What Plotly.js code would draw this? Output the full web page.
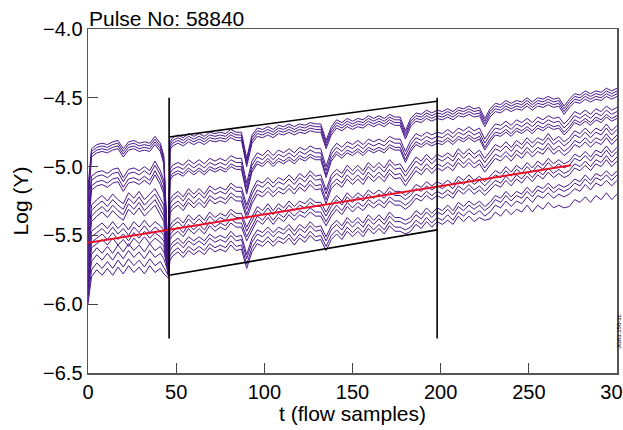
<!DOCTYPE html>
<html>
<head>
<meta charset="utf-8">
<script src="https://cdn.plot.ly/plotly-3.0.1.min.js"></script>
<style>html,body{margin:0;padding:0;background:#fff;}#chart{width:623px;height:430px;}</style>
</head>
<body>
<div id="chart"></div>
<script>
// sample positions (flow samples)
const tSamples = [0,2,5,8,11,14,17,20,23,26,29,32,35,38,41,43,45.5,
46.5,48,51,54,57,60,63,66,69,72,75,78,81,84,87,90,93,96,99,102,105,108,111,114,117,120,123,126,129,132,135,138,141,144,147,150,153,156,159,162,165,168,171,174,177,180,183,186,189,192,195,198,
201,204,207,210,213,216,219,222,225,228,231,234,237,240,243,246,249,252,255,258,261,264,267,270,273,276,279,282,285,288,291,294,297,300];

const lineA1 = [-5.15,-4.87,-4.84,-4.83,-4.84,-4.82,-4.81,-4.87,-4.82,-4.81,-4.83,-4.82,-4.83,-4.78,-4.83,-4.92,-5.68,
-4.82,-4.79,-4.77,-4.79,-4.76,-4.78,-4.76,-4.78,-4.75,-4.76,-4.75,-4.76,-4.73,-4.75,-4.75,-4.94,-4.77,-4.72,-4.73,-4.71,-4.73,-4.70,-4.71,-4.69,-4.71,-4.69,-4.70,-4.68,-4.69,-4.69,-4.81,-4.71,-4.66,-4.68,-4.65,-4.67,-4.65,-4.66,-4.63,-4.65,-4.63,-4.65,-4.62,-4.64,-4.64,-4.74,-4.65,-4.61,-4.62,-4.59,-4.61,-4.59,
-4.60,-4.58,-4.60,-4.57,-4.58,-4.56,-4.58,-4.57,-4.65,-4.58,-4.54,-4.55,-4.52,-4.54,-4.52,-4.53,-4.50,-4.53,-4.50,-4.51,-4.49,-4.51,-4.50,-4.56,-4.51,-4.47,-4.48,-4.45,-4.47,-4.45,-4.46,-4.43,-4.45,-4.43];
const lineA2 = [-5.20,-4.89,-4.86,-4.85,-4.86,-4.84,-4.83,-4.89,-4.84,-4.83,-4.85,-4.84,-4.85,-4.80,-4.85,-4.94,-5.70,
-4.84,-4.81,-4.79,-4.81,-4.78,-4.80,-4.78,-4.80,-4.77,-4.78,-4.77,-4.78,-4.75,-4.77,-4.77,-4.96,-4.79,-4.74,-4.75,-4.73,-4.75,-4.72,-4.73,-4.71,-4.73,-4.71,-4.72,-4.70,-4.71,-4.71,-4.83,-4.73,-4.68,-4.70,-4.67,-4.69,-4.67,-4.68,-4.65,-4.67,-4.65,-4.67,-4.64,-4.66,-4.66,-4.76,-4.67,-4.63,-4.64,-4.61,-4.63,-4.61,
-4.62,-4.60,-4.62,-4.59,-4.60,-4.58,-4.60,-4.59,-4.67,-4.60,-4.56,-4.57,-4.54,-4.56,-4.54,-4.55,-4.52,-4.55,-4.52,-4.53,-4.51,-4.53,-4.52,-4.58,-4.53,-4.49,-4.50,-4.47,-4.49,-4.47,-4.48,-4.45,-4.47,-4.45];
const lineA3 = [-5.25,-4.91,-4.88,-4.87,-4.88,-4.86,-4.85,-4.91,-4.86,-4.85,-4.87,-4.86,-4.87,-4.82,-4.87,-4.96,-5.72,
-4.86,-4.83,-4.81,-4.83,-4.80,-4.82,-4.80,-4.82,-4.79,-4.80,-4.79,-4.80,-4.77,-4.79,-4.79,-4.98,-4.81,-4.76,-4.77,-4.75,-4.77,-4.74,-4.75,-4.73,-4.75,-4.73,-4.74,-4.72,-4.73,-4.73,-4.85,-4.75,-4.70,-4.72,-4.69,-4.71,-4.69,-4.70,-4.67,-4.69,-4.67,-4.69,-4.66,-4.68,-4.68,-4.78,-4.69,-4.65,-4.66,-4.63,-4.65,-4.63,
-4.64,-4.62,-4.64,-4.61,-4.62,-4.60,-4.62,-4.61,-4.69,-4.62,-4.58,-4.59,-4.56,-4.58,-4.56,-4.57,-4.54,-4.57,-4.54,-4.55,-4.53,-4.55,-4.54,-4.60,-4.55,-4.51,-4.52,-4.49,-4.51,-4.49,-4.50,-4.47,-4.49,-4.47];
const lineA4 = [-5.30,-4.93,-4.90,-4.89,-4.90,-4.88,-4.87,-4.93,-4.88,-4.87,-4.89,-4.88,-4.89,-4.84,-4.89,-4.98,-5.74,
-4.88,-4.85,-4.83,-4.85,-4.82,-4.84,-4.82,-4.84,-4.81,-4.82,-4.81,-4.82,-4.79,-4.81,-4.81,-5.00,-4.83,-4.78,-4.79,-4.77,-4.79,-4.76,-4.77,-4.75,-4.77,-4.75,-4.76,-4.74,-4.75,-4.75,-4.87,-4.77,-4.72,-4.74,-4.71,-4.73,-4.71,-4.72,-4.69,-4.71,-4.69,-4.71,-4.68,-4.70,-4.70,-4.80,-4.71,-4.67,-4.68,-4.65,-4.67,-4.65,
-4.66,-4.64,-4.66,-4.63,-4.64,-4.62,-4.64,-4.63,-4.71,-4.64,-4.60,-4.61,-4.58,-4.60,-4.58,-4.59,-4.56,-4.59,-4.56,-4.57,-4.55,-4.57,-4.56,-4.62,-4.57,-4.53,-4.54,-4.51,-4.53,-4.51,-4.52,-4.49,-4.51,-4.49];

const lineB1 = [-5.35,-5.07,-5.04,-5.03,-5.05,-5.02,-5.01,-5.08,-5.02,-5.01,-5.03,-5.00,-5.03,-4.96,-5.03,-5.10,-5.70,
-5.02,-4.99,-4.97,-4.99,-4.95,-4.98,-4.95,-4.98,-4.94,-4.96,-4.94,-4.96,-4.92,-4.94,-4.94,-5.12,-4.96,-4.90,-4.92,-4.88,-4.92,-4.88,-4.90,-4.87,-4.90,-4.86,-4.88,-4.85,-4.87,-4.87,-5.00,-4.88,-4.83,-4.86,-4.82,-4.84,-4.81,-4.84,-4.80,-4.82,-4.80,-4.82,-4.78,-4.80,-4.80,-4.89,-4.81,-4.76,-4.78,-4.75,-4.77,-4.75,
-4.76,-4.73,-4.76,-4.72,-4.74,-4.71,-4.74,-4.72,-4.80,-4.74,-4.69,-4.70,-4.67,-4.70,-4.66,-4.68,-4.65,-4.68,-4.64,-4.66,-4.63,-4.65,-4.64,-4.69,-4.65,-4.60,-4.62,-4.59,-4.62,-4.58,-4.60,-4.56,-4.59,-4.57];
const lineB2 = [-5.40,-5.10,-5.07,-5.06,-5.08,-5.05,-5.04,-5.11,-5.05,-5.04,-5.06,-5.03,-5.06,-4.99,-5.06,-5.13,-5.72,
-5.05,-5.02,-5.00,-5.02,-4.98,-5.01,-4.98,-5.01,-4.97,-4.99,-4.97,-4.99,-4.95,-4.97,-4.97,-5.15,-4.99,-4.93,-4.95,-4.91,-4.95,-4.91,-4.93,-4.90,-4.93,-4.89,-4.91,-4.88,-4.90,-4.90,-5.03,-4.91,-4.86,-4.89,-4.85,-4.87,-4.84,-4.87,-4.83,-4.85,-4.83,-4.85,-4.81,-4.83,-4.83,-4.92,-4.84,-4.79,-4.81,-4.78,-4.80,-4.78,
-4.79,-4.76,-4.79,-4.75,-4.77,-4.74,-4.77,-4.75,-4.83,-4.77,-4.72,-4.73,-4.70,-4.73,-4.69,-4.71,-4.68,-4.71,-4.67,-4.69,-4.66,-4.68,-4.67,-4.72,-4.68,-4.63,-4.65,-4.62,-4.65,-4.61,-4.63,-4.59,-4.62,-4.60];
const lineB3 = [-5.45,-5.14,-5.11,-5.10,-5.12,-5.09,-5.08,-5.15,-5.09,-5.08,-5.10,-5.07,-5.10,-5.03,-5.10,-5.17,-5.74,
-5.08,-5.05,-5.03,-5.05,-5.01,-5.04,-5.01,-5.04,-5.00,-5.02,-5.00,-5.02,-4.98,-5.00,-5.00,-5.18,-5.02,-4.96,-4.98,-4.94,-4.98,-4.94,-4.96,-4.93,-4.96,-4.92,-4.94,-4.91,-4.93,-4.93,-5.06,-4.94,-4.89,-4.92,-4.88,-4.90,-4.87,-4.90,-4.86,-4.88,-4.86,-4.88,-4.84,-4.86,-4.86,-4.95,-4.87,-4.82,-4.84,-4.81,-4.83,-4.81,
-4.82,-4.79,-4.82,-4.78,-4.80,-4.77,-4.80,-4.78,-4.86,-4.80,-4.75,-4.76,-4.73,-4.76,-4.72,-4.74,-4.71,-4.74,-4.70,-4.72,-4.69,-4.71,-4.70,-4.75,-4.71,-4.66,-4.68,-4.65,-4.68,-4.64,-4.66,-4.62,-4.65,-4.63];
const lineB4 = [-5.50,-5.17,-5.14,-5.13,-5.15,-5.12,-5.11,-5.18,-5.12,-5.11,-5.13,-5.10,-5.13,-5.06,-5.13,-5.20,-5.76,
-5.10,-5.07,-5.05,-5.07,-5.03,-5.06,-5.03,-5.06,-5.02,-5.04,-5.02,-5.04,-5.00,-5.02,-5.02,-5.20,-5.04,-4.98,-5.00,-4.96,-5.00,-4.96,-4.98,-4.95,-4.98,-4.94,-4.96,-4.93,-4.95,-4.95,-5.08,-4.96,-4.91,-4.94,-4.90,-4.92,-4.89,-4.92,-4.88,-4.90,-4.88,-4.90,-4.86,-4.88,-4.88,-4.97,-4.89,-4.84,-4.86,-4.83,-4.85,-4.83,
-4.84,-4.81,-4.84,-4.80,-4.82,-4.79,-4.82,-4.80,-4.88,-4.82,-4.77,-4.78,-4.75,-4.78,-4.74,-4.76,-4.73,-4.76,-4.72,-4.74,-4.71,-4.73,-4.72,-4.77,-4.73,-4.68,-4.70,-4.67,-4.70,-4.66,-4.68,-4.64,-4.67,-4.65];

const lineC1 = [-5.55,-5.28,-5.24,-5.21,-5.25,-5.20,-5.24,-5.27,-5.19,-5.23,-5.18,-5.24,-5.20,-5.16,-5.23,-5.28,-5.72,
-5.24,-5.21,-5.18,-5.22,-5.16,-5.20,-5.16,-5.20,-5.14,-5.17,-5.15,-5.17,-5.12,-5.15,-5.15,-5.28,-5.17,-5.10,-5.12,-5.08,-5.12,-5.08,-5.10,-5.06,-5.10,-5.05,-5.08,-5.03,-5.07,-5.06,-5.17,-5.06,-5.02,-5.05,-4.99,-5.03,-4.99,-5.03,-4.97,-5.01,-4.97,-5.01,-4.95,-4.99,-4.98,-5.04,-4.98,-4.93,-4.96,-4.91,-4.95,-4.91,
-4.93,-4.90,-4.93,-4.87,-4.91,-4.87,-4.91,-4.88,-4.94,-4.89,-4.84,-4.86,-4.82,-4.86,-4.81,-4.84,-4.79,-4.83,-4.79,-4.81,-4.76,-4.81,-4.78,-4.82,-4.79,-4.74,-4.76,-4.72,-4.76,-4.72,-4.74,-4.69,-4.74,-4.70];
const lineC2 = [-5.60,-5.32,-5.28,-5.25,-5.29,-5.24,-5.28,-5.31,-5.23,-5.27,-5.22,-5.28,-5.24,-5.20,-5.27,-5.32,-5.74,
-5.27,-5.24,-5.21,-5.25,-5.19,-5.23,-5.19,-5.23,-5.17,-5.20,-5.18,-5.20,-5.15,-5.18,-5.18,-5.31,-5.20,-5.13,-5.15,-5.11,-5.15,-5.11,-5.13,-5.09,-5.13,-5.08,-5.11,-5.06,-5.10,-5.09,-5.20,-5.09,-5.05,-5.08,-5.02,-5.06,-5.02,-5.06,-5.00,-5.04,-5.00,-5.04,-4.98,-5.02,-5.01,-5.07,-5.01,-4.96,-4.99,-4.94,-4.98,-4.94,
-4.96,-4.93,-4.96,-4.90,-4.94,-4.90,-4.94,-4.91,-4.97,-4.92,-4.87,-4.89,-4.85,-4.89,-4.84,-4.87,-4.82,-4.86,-4.82,-4.84,-4.79,-4.84,-4.81,-4.85,-4.82,-4.77,-4.79,-4.75,-4.79,-4.75,-4.77,-4.72,-4.77,-4.73];
const lineC3 = [-5.65,-5.36,-5.32,-5.29,-5.33,-5.28,-5.32,-5.35,-5.27,-5.31,-5.26,-5.32,-5.28,-5.24,-5.31,-5.36,-5.76,
-5.31,-5.28,-5.25,-5.29,-5.23,-5.27,-5.23,-5.27,-5.21,-5.24,-5.22,-5.24,-5.19,-5.22,-5.22,-5.35,-5.24,-5.17,-5.19,-5.15,-5.19,-5.15,-5.17,-5.13,-5.17,-5.12,-5.15,-5.10,-5.14,-5.13,-5.24,-5.13,-5.09,-5.12,-5.06,-5.10,-5.06,-5.10,-5.04,-5.08,-5.04,-5.08,-5.02,-5.06,-5.05,-5.11,-5.05,-5.00,-5.03,-4.98,-5.02,-4.98,
-5.00,-4.97,-5.00,-4.94,-4.98,-4.94,-4.98,-4.95,-5.01,-4.96,-4.91,-4.93,-4.89,-4.93,-4.88,-4.91,-4.86,-4.90,-4.86,-4.88,-4.83,-4.88,-4.85,-4.89,-4.86,-4.81,-4.83,-4.79,-4.83,-4.79,-4.81,-4.76,-4.81,-4.77];
const lineC4 = [-5.70,-5.40,-5.36,-5.33,-5.37,-5.32,-5.36,-5.39,-5.31,-5.35,-5.30,-5.36,-5.32,-5.28,-5.35,-5.40,-5.78,
-5.34,-5.31,-5.28,-5.32,-5.26,-5.30,-5.26,-5.30,-5.24,-5.27,-5.25,-5.27,-5.22,-5.25,-5.25,-5.38,-5.27,-5.20,-5.22,-5.18,-5.22,-5.18,-5.20,-5.16,-5.20,-5.15,-5.18,-5.13,-5.17,-5.16,-5.27,-5.16,-5.12,-5.15,-5.09,-5.13,-5.09,-5.13,-5.07,-5.11,-5.07,-5.11,-5.05,-5.09,-5.08,-5.14,-5.08,-5.03,-5.06,-5.01,-5.05,-5.01,
-5.03,-5.00,-5.03,-4.97,-5.01,-4.97,-5.01,-4.98,-5.04,-4.99,-4.94,-4.96,-4.92,-4.96,-4.91,-4.94,-4.89,-4.93,-4.89,-4.91,-4.86,-4.91,-4.88,-4.92,-4.89,-4.84,-4.86,-4.82,-4.86,-4.82,-4.84,-4.79,-4.84,-4.80];

const lineD1 = [-5.75,-5.47,-5.44,-5.41,-5.45,-5.40,-5.45,-5.41,-5.46,-5.40,-5.44,-5.39,-5.44,-5.40,-5.43,-5.46,-5.74,
-5.43,-5.40,-5.37,-5.41,-5.35,-5.39,-5.35,-5.39,-5.33,-5.37,-5.34,-5.36,-5.31,-5.34,-5.34,-5.44,-5.36,-5.29,-5.32,-5.27,-5.32,-5.27,-5.30,-5.25,-5.29,-5.25,-5.27,-5.23,-5.26,-5.26,-5.33,-5.26,-5.21,-5.25,-5.19,-5.23,-5.19,-5.22,-5.17,-5.20,-5.17,-5.20,-5.15,-5.18,-5.18,-5.21,-5.18,-5.13,-5.15,-5.11,-5.14,-5.11,
-5.13,-5.10,-5.13,-5.07,-5.10,-5.06,-5.10,-5.07,-5.11,-5.07,-5.03,-5.05,-5.00,-5.04,-4.99,-5.02,-4.97,-5.01,-4.96,-4.99,-4.94,-4.98,-4.95,-4.98,-4.96,-4.91,-4.93,-4.89,-4.93,-4.88,-4.90,-4.85,-4.90,-4.86];
const lineD2 = [-5.80,-5.51,-5.48,-5.45,-5.49,-5.44,-5.49,-5.45,-5.50,-5.44,-5.48,-5.43,-5.48,-5.44,-5.47,-5.50,-5.76,
-5.46,-5.43,-5.40,-5.44,-5.38,-5.42,-5.38,-5.42,-5.36,-5.40,-5.37,-5.39,-5.34,-5.37,-5.37,-5.47,-5.39,-5.32,-5.35,-5.30,-5.35,-5.30,-5.33,-5.28,-5.32,-5.28,-5.30,-5.26,-5.29,-5.29,-5.36,-5.29,-5.24,-5.28,-5.22,-5.26,-5.22,-5.25,-5.20,-5.23,-5.20,-5.23,-5.18,-5.21,-5.21,-5.24,-5.21,-5.16,-5.18,-5.14,-5.17,-5.14,
-5.16,-5.13,-5.16,-5.10,-5.13,-5.09,-5.13,-5.10,-5.14,-5.10,-5.06,-5.08,-5.03,-5.07,-5.02,-5.05,-5.00,-5.04,-4.99,-5.02,-4.97,-5.01,-4.98,-5.01,-4.99,-4.94,-4.96,-4.92,-4.96,-4.91,-4.93,-4.88,-4.93,-4.89];
const lineD3 = [-5.85,-5.55,-5.52,-5.49,-5.53,-5.48,-5.53,-5.49,-5.54,-5.48,-5.52,-5.47,-5.52,-5.48,-5.51,-5.54,-5.77,
-5.50,-5.47,-5.44,-5.48,-5.42,-5.46,-5.42,-5.46,-5.40,-5.44,-5.41,-5.43,-5.38,-5.41,-5.41,-5.51,-5.43,-5.36,-5.39,-5.34,-5.39,-5.34,-5.37,-5.32,-5.36,-5.32,-5.34,-5.30,-5.33,-5.33,-5.40,-5.33,-5.28,-5.32,-5.26,-5.30,-5.26,-5.29,-5.24,-5.27,-5.24,-5.27,-5.22,-5.25,-5.25,-5.28,-5.25,-5.20,-5.22,-5.18,-5.21,-5.18,
-5.20,-5.17,-5.20,-5.14,-5.17,-5.13,-5.17,-5.14,-5.18,-5.14,-5.10,-5.12,-5.07,-5.11,-5.06,-5.09,-5.04,-5.08,-5.03,-5.06,-5.01,-5.05,-5.02,-5.05,-5.03,-4.98,-5.00,-4.96,-5.00,-4.95,-4.97,-4.92,-4.97,-4.93];
const lineD4 = [-5.88,-5.59,-5.56,-5.53,-5.57,-5.52,-5.57,-5.53,-5.58,-5.52,-5.56,-5.51,-5.56,-5.52,-5.55,-5.58,-5.79,
-5.53,-5.50,-5.47,-5.51,-5.45,-5.49,-5.45,-5.49,-5.43,-5.47,-5.44,-5.46,-5.41,-5.44,-5.44,-5.54,-5.46,-5.39,-5.42,-5.37,-5.42,-5.37,-5.40,-5.35,-5.39,-5.35,-5.37,-5.33,-5.36,-5.36,-5.43,-5.36,-5.31,-5.35,-5.29,-5.33,-5.29,-5.32,-5.27,-5.30,-5.27,-5.30,-5.25,-5.28,-5.28,-5.31,-5.28,-5.23,-5.25,-5.21,-5.24,-5.21,
-5.23,-5.20,-5.23,-5.17,-5.20,-5.16,-5.20,-5.17,-5.21,-5.17,-5.13,-5.15,-5.10,-5.14,-5.09,-5.12,-5.07,-5.11,-5.06,-5.09,-5.04,-5.08,-5.05,-5.08,-5.06,-5.01,-5.03,-4.99,-5.03,-4.98,-5.00,-4.95,-5.00,-4.96];

const lineE1 = [-5.90,-5.64,-5.59,-5.63,-5.58,-5.63,-5.57,-5.62,-5.56,-5.61,-5.57,-5.62,-5.56,-5.61,-5.58,-5.62,-5.75,
-5.58,-5.55,-5.52,-5.56,-5.51,-5.54,-5.51,-5.54,-5.49,-5.52,-5.50,-5.52,-5.47,-5.51,-5.50,-5.64,-5.52,-5.46,-5.48,-5.44,-5.48,-5.44,-5.46,-5.42,-5.47,-5.42,-5.45,-5.40,-5.44,-5.43,-5.51,-5.43,-5.39,-5.43,-5.37,-5.41,-5.37,-5.41,-5.35,-5.39,-5.35,-5.39,-5.33,-5.37,-5.37,-5.39,-5.37,-5.32,-5.35,-5.30,-5.34,-5.30,
-5.32,-5.28,-5.32,-5.26,-5.29,-5.25,-5.28,-5.25,-5.29,-5.26,-5.21,-5.23,-5.18,-5.22,-5.18,-5.20,-5.15,-5.19,-5.14,-5.16,-5.12,-5.16,-5.13,-5.15,-5.13,-5.09,-5.11,-5.06,-5.10,-5.05,-5.07,-5.03,-5.07,-5.03];
const lineE2 = [-5.93,-5.69,-5.64,-5.68,-5.63,-5.68,-5.62,-5.67,-5.61,-5.66,-5.62,-5.67,-5.61,-5.66,-5.63,-5.67,-5.77,
-5.61,-5.58,-5.55,-5.59,-5.54,-5.57,-5.54,-5.57,-5.52,-5.55,-5.53,-5.55,-5.50,-5.54,-5.53,-5.67,-5.55,-5.49,-5.51,-5.47,-5.51,-5.47,-5.49,-5.45,-5.50,-5.45,-5.48,-5.43,-5.47,-5.46,-5.54,-5.46,-5.42,-5.46,-5.40,-5.44,-5.40,-5.44,-5.38,-5.42,-5.38,-5.42,-5.36,-5.40,-5.40,-5.42,-5.40,-5.35,-5.38,-5.33,-5.37,-5.33,
-5.35,-5.31,-5.35,-5.29,-5.32,-5.28,-5.31,-5.28,-5.32,-5.29,-5.24,-5.26,-5.21,-5.25,-5.21,-5.23,-5.18,-5.22,-5.17,-5.19,-5.15,-5.19,-5.16,-5.18,-5.16,-5.12,-5.14,-5.09,-5.13,-5.08,-5.10,-5.06,-5.10,-5.06];
const lineE3 = [-5.96,-5.75,-5.70,-5.74,-5.69,-5.74,-5.68,-5.73,-5.67,-5.72,-5.68,-5.73,-5.67,-5.72,-5.69,-5.73,-5.79,
-5.65,-5.62,-5.59,-5.63,-5.58,-5.61,-5.58,-5.61,-5.56,-5.59,-5.57,-5.59,-5.54,-5.58,-5.57,-5.71,-5.59,-5.53,-5.55,-5.51,-5.55,-5.51,-5.53,-5.49,-5.54,-5.49,-5.52,-5.47,-5.51,-5.50,-5.58,-5.50,-5.46,-5.50,-5.44,-5.48,-5.44,-5.48,-5.42,-5.46,-5.42,-5.46,-5.40,-5.44,-5.44,-5.46,-5.44,-5.39,-5.42,-5.37,-5.41,-5.37,
-5.39,-5.35,-5.39,-5.33,-5.36,-5.32,-5.35,-5.32,-5.36,-5.33,-5.28,-5.30,-5.25,-5.29,-5.25,-5.27,-5.22,-5.26,-5.21,-5.23,-5.19,-5.23,-5.20,-5.22,-5.20,-5.16,-5.18,-5.13,-5.17,-5.12,-5.14,-5.10,-5.14,-5.10];
const lineE4 = [-6.00,-5.80,-5.75,-5.79,-5.74,-5.79,-5.73,-5.78,-5.72,-5.77,-5.73,-5.78,-5.72,-5.77,-5.74,-5.78,-5.81,
-5.68,-5.65,-5.62,-5.66,-5.61,-5.64,-5.61,-5.64,-5.59,-5.62,-5.60,-5.62,-5.57,-5.61,-5.60,-5.74,-5.62,-5.56,-5.58,-5.54,-5.58,-5.54,-5.56,-5.52,-5.57,-5.52,-5.55,-5.50,-5.54,-5.53,-5.61,-5.53,-5.49,-5.53,-5.47,-5.51,-5.47,-5.51,-5.45,-5.49,-5.45,-5.49,-5.43,-5.47,-5.47,-5.49,-5.47,-5.42,-5.45,-5.40,-5.44,-5.40,
-5.42,-5.39,-5.42,-5.36,-5.40,-5.36,-5.40,-5.37,-5.39,-5.38,-5.33,-5.36,-5.31,-5.35,-5.31,-5.33,-5.28,-5.33,-5.28,-5.31,-5.26,-5.30,-5.28,-5.30,-5.29,-5.24,-5.26,-5.22,-5.26,-5.21,-5.24,-5.19,-5.24,-5.20];

// red fitted trend
const fitT = [0, 274];
const fitY = [-5.553, -4.99];

// black analysis window
const windowT = [46, 198];
const windowVerticalY = [-4.5, -6.25];
const windowUpperY = [-4.785, -4.525];
const windowLowerY = [-5.79, -5.46];

const xTicks = [0, 50, 100, 150, 200, 250, 300];
const yTicks = [-6.5, -6.0, -5.5, -5.0, -4.5, -4.0];

const purple = 'rgb(72,24,140)';
const allLines = [lineA1,lineA2,lineA3,lineA4,lineB1,lineB2,lineB3,lineB4,lineC1,lineC2,lineC3,lineC4,
                  lineD1,lineD2,lineD3,lineD4,lineE1,lineE2,lineE3,lineE4];

const traces = allLines.map(y => ({
  x: tSamples, y: y, type: 'scatter', mode: 'lines',
  line: {color: purple, width: 1}, hoverinfo: 'skip'
}));

traces.push({x: fitT, y: fitY, type: 'scatter', mode: 'lines',
  line: {color: 'rgb(232,16,40)', width: 2}, hoverinfo: 'skip'});

traces.push({x: [windowT[0], windowT[0]], y: windowVerticalY, type: 'scatter', mode: 'lines',
  line: {color: '#000', width: 1.6}, hoverinfo: 'skip'});
traces.push({x: [windowT[1], windowT[1]], y: windowVerticalY, type: 'scatter', mode: 'lines',
  line: {color: '#000', width: 1.6}, hoverinfo: 'skip'});
traces.push({x: windowT, y: windowUpperY, type: 'scatter', mode: 'lines',
  line: {color: '#000', width: 1.6}, hoverinfo: 'skip'});
traces.push({x: windowT, y: windowLowerY, type: 'scatter', mode: 'lines',
  line: {color: '#000', width: 1.6}, hoverinfo: 'skip'});

const font = 'Liberation Sans, Arial, Helvetica, sans-serif';
const layout = {
  width: 623, height: 430,
  margin: {l: 88, r: 6, t: 29, b: 57, pad: 0},
  paper_bgcolor: '#fff', plot_bgcolor: '#fff',
  showlegend: false,
  hovermode: false,
  font: {family: font, size: 20, color: '#000'},
  title: {text: 'Pulse No: 58840', xref: 'container', yref: 'container',
          x: 89/623, xanchor: 'left', y: 1 - 19/430, yanchor: 'middle',
          font: {family: font, size: 21, color: '#000'}},
  xaxis: {range: [0, 300], tickvals: xTicks, ticks: 'inside', ticklen: 10, tickwidth: 1,
          tickcolor: '#444', showline: true, linecolor: '#555', linewidth: 1.5, mirror: true,
          showgrid: false, zeroline: false, automargin: false, ticklabeloverflow: 'allow',
          tickfont: {family: font, size: 20, color: '#000'},
          title: {text: 't (flow samples)', standoff: 5, font: {family: font, size: 21, color: '#000'}}},
  yaxis: {range: [-6.5, -4.0], tickvals: yTicks, tickformat: '.1f', ticks: 'inside', ticklen: 10, tickwidth: 1,
          tickcolor: '#444', showline: true, linecolor: '#555', linewidth: 1.5, mirror: true,
          showgrid: false, zeroline: false, automargin: false,
          tickfont: {family: font, size: 20, color: '#000'},
          title: {text: 'Log (Y)', standoff: 8, font: {family: font, size: 21, color: '#000'}}},
  annotations: [{text: 'JG03.158-3c', xref: 'paper', yref: 'y', x: 1 + 6/529, y: -6.2,
                 xanchor: 'right', yanchor: 'middle', borderpad: 0,
                 textangle: -90, showarrow: false,
                 font: {family: font, size: 6, color: '#000'}}]
};

Plotly.newPlot('chart', traces, layout, {displayModeBar: false, staticPlot: true});
</script>
</body>
</html>
